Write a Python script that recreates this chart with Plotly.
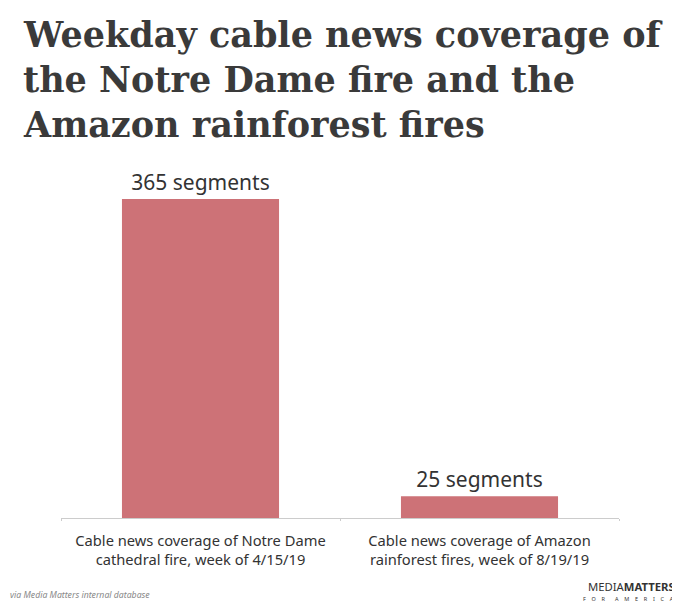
import plotly.graph_objects as go

categories = [
    "Cable news coverage of Notre Dame<br>cathedral fire, week of 4/15/19",
    "Cable news coverage of Amazon<br>rainforest fires, week of 8/19/19",
]
segments = [365, 25]
title_lines = [
    "Weekday cable news coverage of",
    "the Notre Dame fire and the",
    "Amazon rainforest fires",
]
source_text = "via Media Matters internal database"
logo_text = "MEDIA<b>MATTERS</b>"
logo_sub = "FOR AMERICA"

W, H = 672, 600
L, R, T, B = 53, 61, 157, 90
PH = H - T - B
PW = W - L - R


def px_x(x):
    return (x - L) / PW


def px_y(y):
    return (H - B - y) / PH


fig = go.Figure(
    go.Bar(
        x=categories,
        y=segments,
        marker=dict(color="#cd7277", line=dict(width=0)),
        texttemplate="%{y} segments",
        textposition="outside",
        textfont=dict(family="Noto Sans", size=21, color="#333333"),
        cliponaxis=False,
        hoverinfo="skip",
    )
)

annotations = []
for i, line in enumerate(title_lines):
    annotations.append(
        dict(
            text=line,
            xref="paper", yref="paper",
            x=px_x(13), y=px_y(27 + 44.5 * i),
            xanchor="left", yanchor="middle",
            showarrow=False,
            font=dict(family="DejaVu Serif", size=35, color="#3a3a3a", weight="bold"),
        )
    )

nb = "\u00a0"
sub = (nb * 7).join(
    (nb * 4).join(word) for word in logo_sub.split(" ")
)

annotations += [
    dict(
        text=source_text,
        xref="paper", yref="paper",
        x=px_x(0), y=px_y(587),
        xanchor="left", yanchor="middle",
        showarrow=False,
        font=dict(family="Noto Sans", size=8.7, color="#888888", style="italic"),
    ),
    dict(
        text=logo_text,
        xref="paper", yref="paper",
        x=px_x(669), y=px_y(578),
        xanchor="right", yanchor="middle",
        showarrow=False,
        font=dict(family="Noto Sans", size=11.3, color="#333333"),
    ),
    dict(
        text=sub,
        xref="paper", yref="paper",
        x=px_x(668), y=px_y(591),
        xanchor="right", yanchor="middle",
        showarrow=False,
        font=dict(family="Noto Sans", size=5.5, color="#333333"),
    ),
]

fig.update_layout(
    width=W,
    height=H,
    margin=dict(l=L, r=R, t=T, b=B),
    paper_bgcolor="white",
    plot_bgcolor="white",
    bargap=0.437,
    showlegend=False,
    xaxis=dict(
        showline=True,
        linecolor="#cccccc",
        linewidth=1,
        ticks="outside",
        tickson="boundaries",
        ticklen=2,
        tickcolor="#cccccc",
        ticklabelstandoff=9,
        tickfont=dict(family="Noto Sans", size=14.7, color="#333333"),
        showgrid=False,
        fixedrange=True,
    ),
    yaxis=dict(
        range=[0, 404],
        visible=False,
        showgrid=False,
        zeroline=False,
        fixedrange=True,
    ),
    annotations=annotations,
)

fig.write_html("out.html")
